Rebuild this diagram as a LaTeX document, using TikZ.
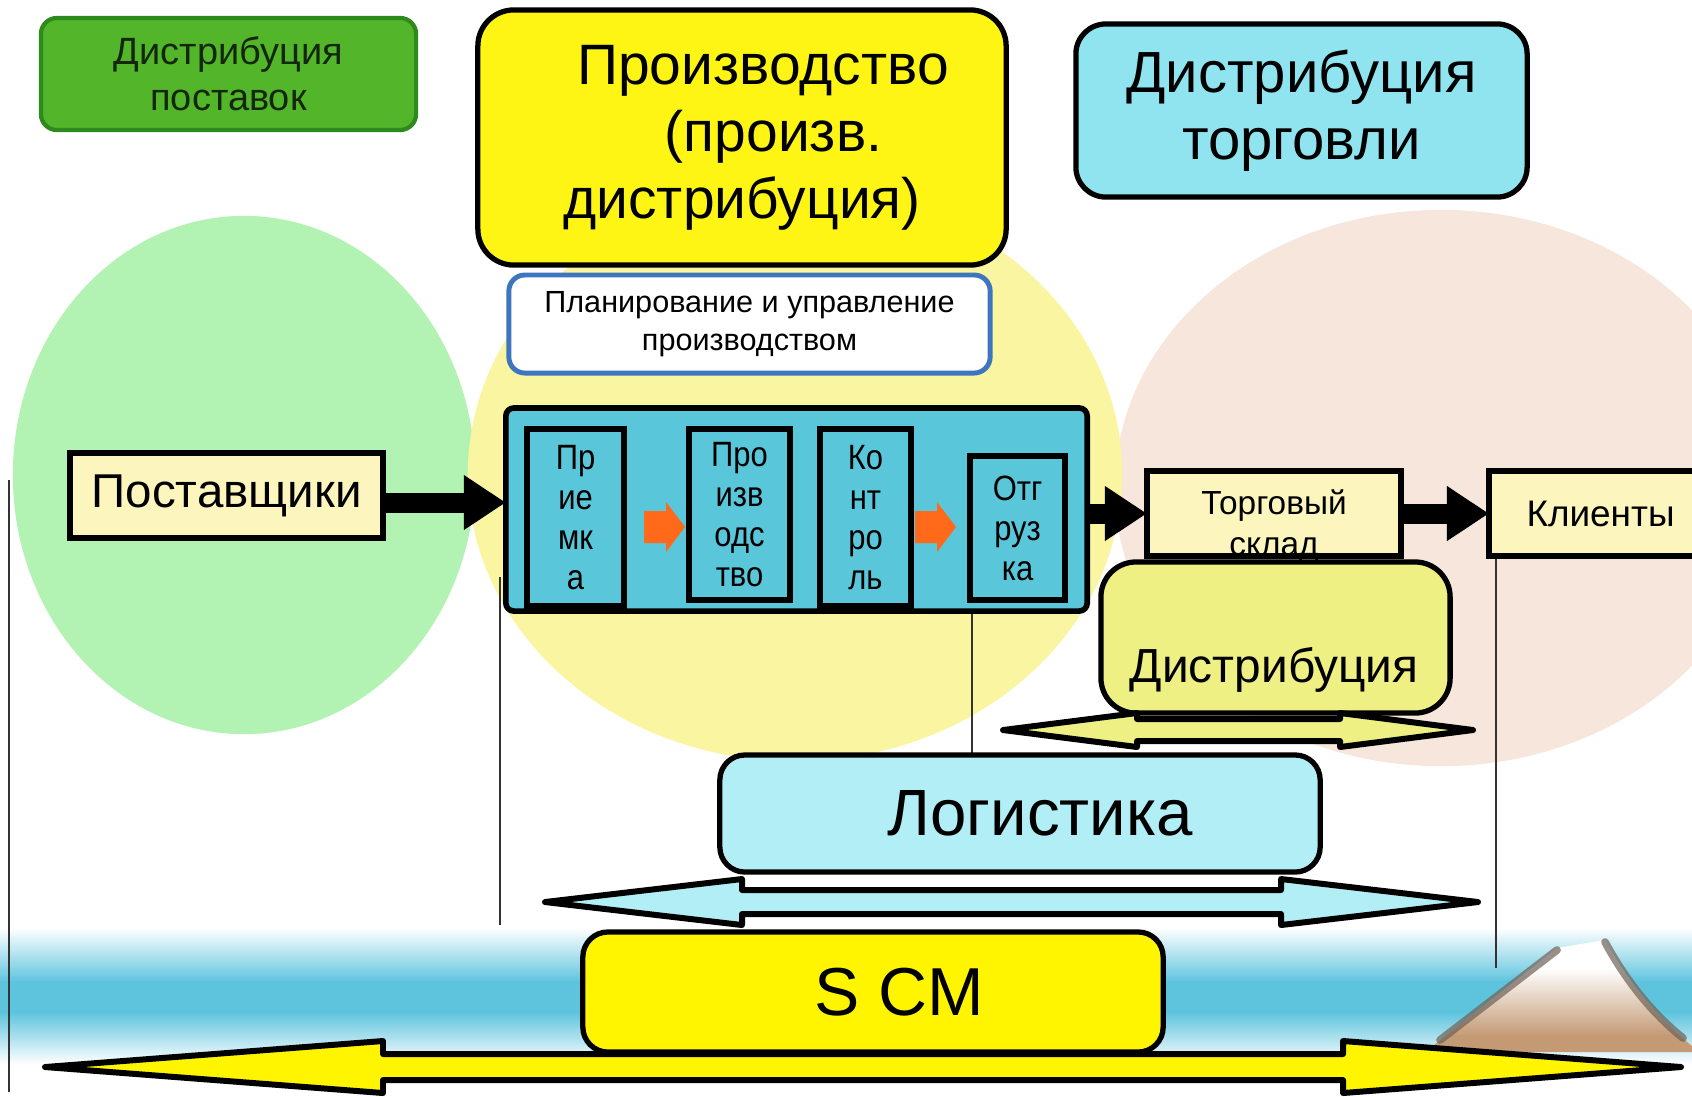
\documentclass[tikz,border=0pt]{standalone}
\usepackage{fontspec}
\setmainfont{Liberation Sans}
\newfontfamily\narrowfont[FakeStretch=0.88]{Liberation Sans}
\usetikzlibrary{arrows.meta}
\definecolor{gEll}{HTML}{B2F2B2}
\definecolor{yEll}{HTML}{FAF5A0}
\definecolor{pEll}{HTML}{F7E6DC}
\definecolor{bandC}{HTML}{5EC4DE}
\definecolor{gBox}{HTML}{52B52A}
\definecolor{gBord}{HTML}{2E8A1C}
\definecolor{gText}{HTML}{14260C}
\definecolor{yBox}{HTML}{FFF514}
\definecolor{cBox}{HTML}{90E4F0}
\definecolor{planBord}{HTML}{3D76BF}
\definecolor{contC}{HTML}{5AC6DA}
\definecolor{paleY}{HTML}{FCF6BE}
\definecolor{distC}{HTML}{EFF084}
\definecolor{logiC}{HTML}{B2EEF6}
\definecolor{scmC}{HTML}{FFF500}
\definecolor{oraC}{HTML}{FF6A1A}
\definecolor{tanC}{HTML}{C49A74}
\definecolor{ridgeC}{HTML}{6E6258}
\definecolor{lineC}{HTML}{333333}
\tikzset{
  box/.style={draw=black, line width=1.5pt, outer sep=0pt, inner sep=0pt, align=center, text=black},
  innerbox/.style={box, fill=contC, line width=1.7pt, font=\narrowfont\fontsize{10}{11.4}\selectfont},
  conn/.style={draw=black, line width=0.2cm, -{Triangle[length=0.42cm,width=0.52cm]}},
  dblarrow/.style={draw=black, line width=1.7pt, line join=round},
  thinline/.style={draw=lineC, line width=0.45pt},
  oarrow/.style={fill=oraC},
}
\begin{document}
\begin{tikzpicture}[x=0.01cm,y=-0.01cm]
\useasboundingbox (0,0) rectangle (1692,1096);
\fill[white] (0,0) rectangle (1692,1096);
% background ellipses
\fill[pEll] (1441,488) ellipse [x radius=3.26cm, y radius=2.78cm];
\fill[gEll] (244,475) ellipse [x radius=2.31cm, y radius=2.59cm];
\fill[yEll] (795,474) ellipse [x radius=3.27cm, y radius=2.87cm];
% blue band
\shade[top color=white, bottom color=bandC] (0,928) rectangle (1692,982);
\fill[bandC] (0,981) rectangle (1692,1013);
\shade[top color=bandC, bottom color=white] (0,1012) rectangle (1692,1064);
% mountain
\begin{scope}
  \clip (1425,1052) -- (1557,948) -- (1605,940) .. controls (1630,985) and (1660,1020) .. (1692,1046) -- (1692,1052) -- cycle;
  \fill[white] (1400,930) rectangle (1692,1060);
  \shade[top color=white, bottom color=tanC] (1400,968) rectangle (1692,1036);
  \fill[tanC] (1400,1035) rectangle (1692,1060);
\end{scope}
\draw[ridgeC, line width=2.2pt, opacity=0.7, line cap=round] (1557,950) -- (1440,1040);
\draw[ridgeC, line width=2.2pt, opacity=0.7, line cap=round] (1605,942) .. controls (1630,988) and (1658,1018) .. (1683,1038);
% thin vertical lines
\coordinate (v1a) at (9,480);   \coordinate (v1b) at (9,1092);
\coordinate (v2a) at (500,577); \coordinate (v2b) at (500,925);
\coordinate (v3a) at (972,607); \coordinate (v3b) at (972,757);
\coordinate (v4a) at (1496,556);\coordinate (v4b) at (1496,968);
\draw[thinline] (v1a) -- (v1b);
\draw[thinline] (v2a) -- (v2b);
\draw[thinline] (v3a) -- (v3b);
\draw[thinline] (v4a) -- (v4b);
% top boxes
\node[box, fill=gBox, draw=gBord, line width=1.2pt, rounded corners=0.16cm,
      minimum width=3.75cm, minimum height=1.12cm,
      font=\fontsize{10.8}{13.1}\selectfont, text=gText] (gbox) at (228.5,74) {Дистрибуция\\поставок};
\node[box, fill=yBox, rounded corners=0.36cm, minimum width=5.28cm, minimum height=2.55cm,
      font=\fontsize{16.2}{19.1}\selectfont] (ybox) at (742,137.5)
      {\hspace*{0.42cm}Производство\\\hspace*{0.63cm}(произв.\\дистрибуция)};
\node[box, fill=cBox, rounded corners=0.3cm, minimum width=4.51cm, minimum height=1.73cm,
      font=\fontsize{16.5}{19.1}\selectfont] (cbox) at (1301.5,110.5) {Дистрибуция\\торговли};
\node[box, fill=white, draw=planBord, line width=1.4pt, rounded corners=0.16cm,
      minimum width=4.81cm, minimum height=0.98cm,
      font=\fontsize{8.7}{10.8}\selectfont] (plan) at (749.5,324) {Планирование и управление\\производством};
% process container
\node[box, fill=contC, line width=1.6pt, rounded corners=0.08cm,
      minimum width=5.81cm, minimum height=2.03cm] (cont) at (796.5,509.5) {};
\node[innerbox, minimum width=0.97cm, minimum height=1.77cm] (pri) at (575.5,517.5) {Пр\\ие\\мк\\а};
\node[innerbox, minimum width=1.01cm, minimum height=1.71cm] (proi) at (739.5,514.5) {Про\\изв\\одс\\тво};
\node[innerbox, minimum width=0.91cm, minimum height=1.77cm] (kon) at (865.5,517.5) {Ко\\нт\\ро\\ль};
\node[innerbox, minimum width=0.95cm, minimum height=1.44cm] (otg) at (1017.5,528) {Отг\\руз\\ка};
\fill[oarrow] (644,511) -- (666,511) -- (666,502) -- (685,527) -- (666,552) -- (666,543) -- (644,543) -- cycle;
\fill[oarrow] (915,511) -- (937,511) -- (937,502) -- (956,527) -- (937,552) -- (937,543) -- (915,543) -- cycle;
% left / right boxes
\node[box, fill=paleY, minimum width=3.13cm, minimum height=0.85cm,
      font=\fontsize{13.5}{16}\selectfont] (post) at (226.5,495.5) {Поставщики};
\node[box, fill=paleY, minimum width=2.54cm, minimum height=0.85cm] (torg) at (1274,513.5) {};
\node[align=center, inner sep=0pt, font=\fontsize{9.5}{11.7}\selectfont] (torgtxt) at (1274,526) {Торговый\\склад};
\draw[black, line width=1.5pt] (torg.south west) -- (torg.south east);
\node[box, fill=paleY, minimum width=2.23cm, minimum height=0.85cm,
      font=\fontsize{10.5}{12.5}\selectfont] (klient) at (1600.5,513.5) {Клиенты};
% connectors
\draw[conn] ([yshift=-0.07cm]post.east) -- ([yshift=-0.07cm]post.east -| cont.west);
\draw[conn] (torg.west -| cont.east) -- (torg.west);
\draw[conn] (torg.east) -- (klient.west);
% distribution
\node[box, fill=distC, rounded corners=0.35cm, minimum width=3.49cm, minimum height=1.51cm] (dist) at (1275.5,637.5) {};
\node[inner sep=0pt, font=\fontsize{13.6}{16}\selectfont] (disttxt) at (1274,670) {Дистрибуция};
\draw[dblarrow, fill=distC] (1003,730) -- (1137,713) -- (1137,719) -- (1340,719) -- (1340,713) -- (1473,730)
   -- (1340,747) -- (1340,741) -- (1137,741) -- (1137,747) -- cycle;
% logistics
\node[box, fill=logiC, rounded corners=0.25cm, minimum width=6cm, minimum height=1.17cm,
      font=\fontsize{18.6}{22}\selectfont] (logi) at (1020,813.5) {\hspace*{0.4cm}Логистика};
\draw[dblarrow, fill=logiC] (545,902) -- (742,879) -- (742,890) -- (1281,890) -- (1281,879) -- (1478,902)
   -- (1281,925) -- (1281,914) -- (742,914) -- (742,925) -- cycle;
% SCM
\node[box, fill=scmC, rounded corners=0.25cm, minimum width=5.8cm, minimum height=1.2cm,
      font=\fontsize{19.3}{23}\selectfont] (scm) at (873,992) {\hspace*{0.52cm}S CM};
\draw[dblarrow, fill=scmC] (45,1067) -- (383,1041) -- (383,1054) -- (1343,1054) -- (1343,1041) -- (1681,1067)
   -- (1343,1093) -- (1343,1080) -- (383,1080) -- (383,1093) -- cycle;
\end{tikzpicture}
\end{document}
